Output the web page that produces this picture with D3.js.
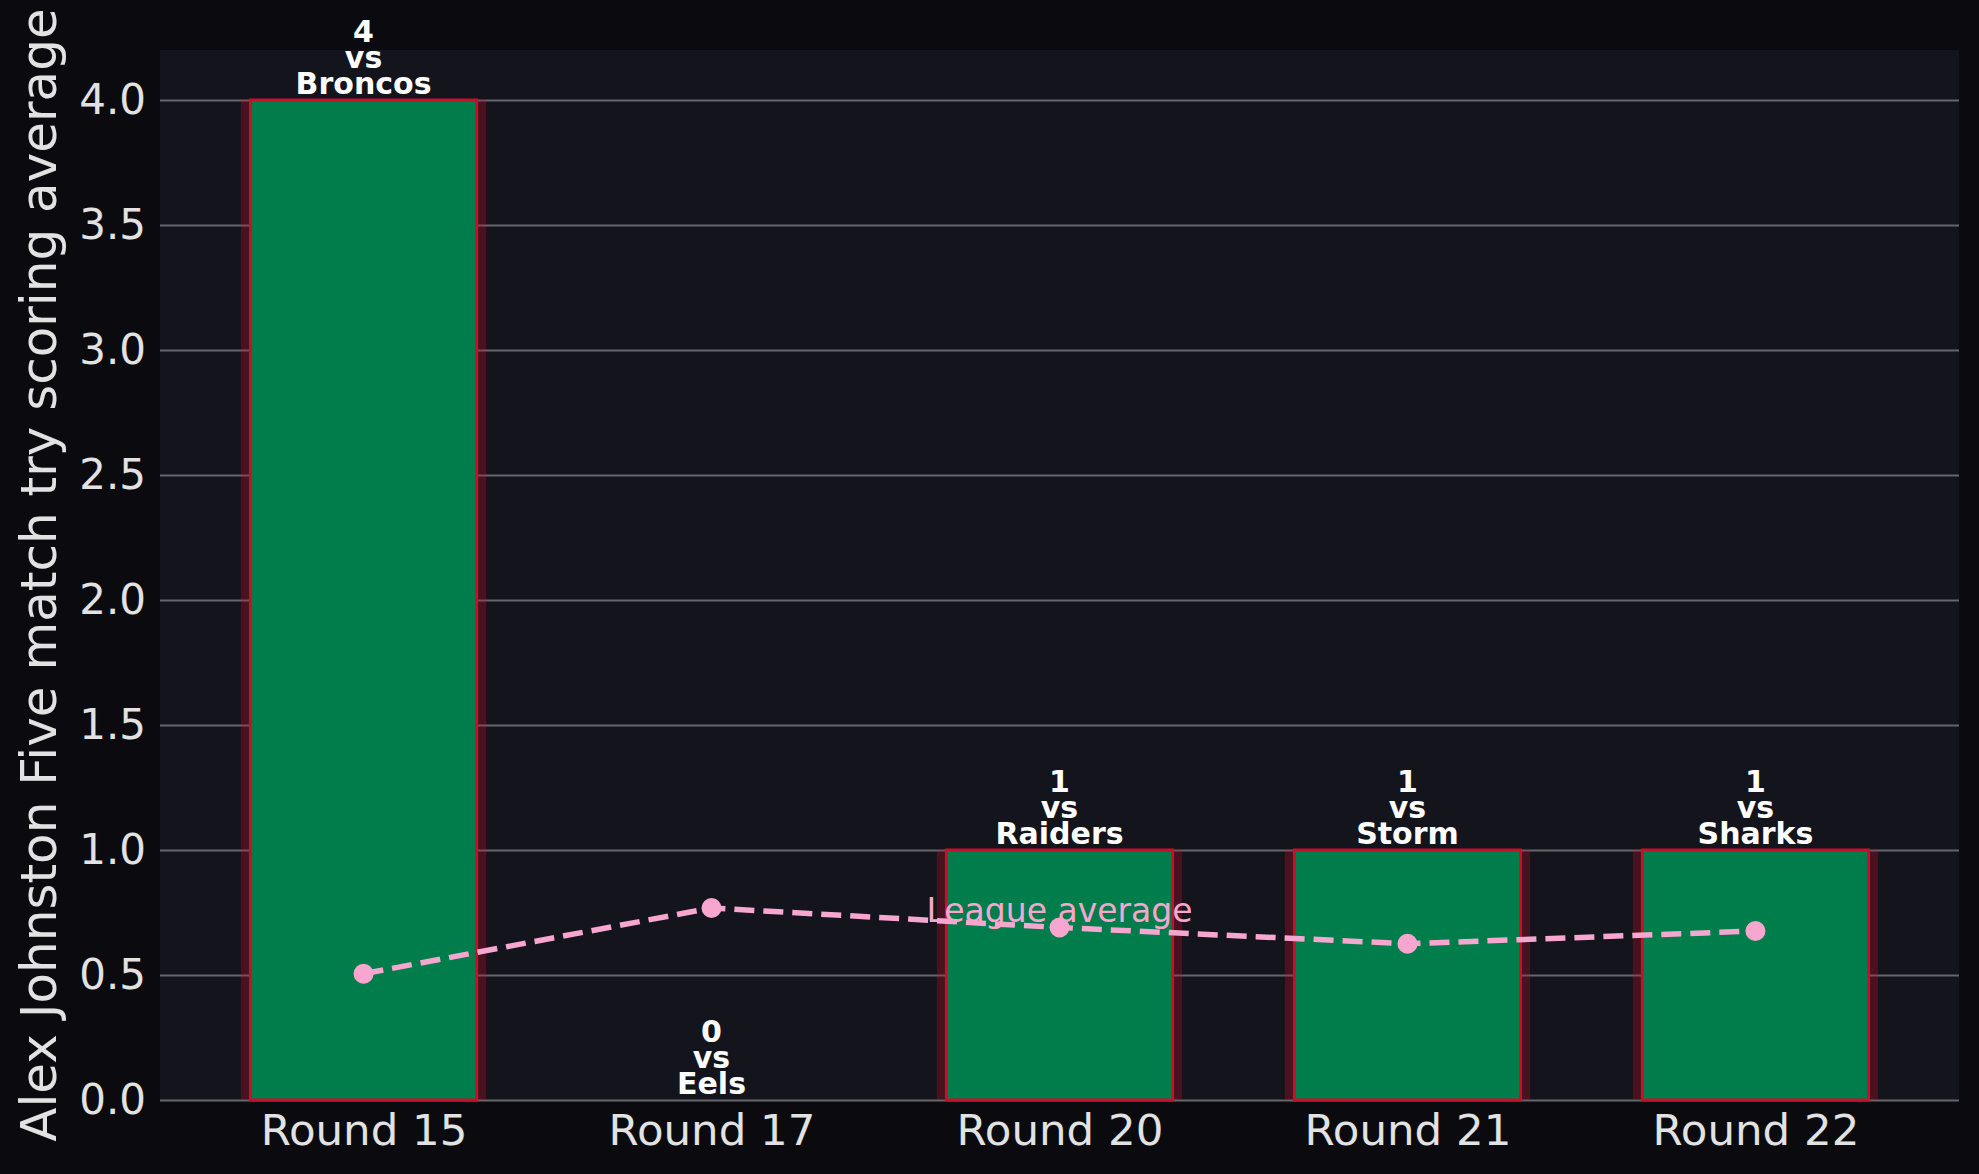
<!DOCTYPE html>
<html>
<head>
<meta charset="utf-8">
<script src="https://cdn.jsdelivr.net/npm/d3@7/dist/d3.min.js"></script>
<style>
  html, body { margin: 0; padding: 0; background: #0b0b0f; }
  svg { display: block; font-family: 'DejaVu Sans', sans-serif; }
</style>
</head>
<body>
<div id="chart"></div>
<script>
// data
const rounds = ['Round 15', 'Round 17', 'Round 20', 'Round 21', 'Round 22'];
const tries = [4, 0, 1, 1, 1];
const opponents = ['Broncos', 'Eels', 'Raiders', 'Storm', 'Sharks'];
const leagueAvg = [0.505, 0.768, 0.69, 0.625, 0.676];
const yTicks = [0, 0.5, 1, 1.5, 2, 2.5, 3, 3.5, 4];
const yLabel = 'Alex Johnston Five match try scoring average';

const W = 1979;
const H = 1174;
const margin = { t: 50, r: 20, b: 74, l: 160 };
const innerWidth = W - margin.l - margin.r;
const innerHeight = H - margin.t - margin.b;

const svg = d3.select('#chart')
  .append('svg')
  .attr('width', W)
  .attr('height', H);

svg.append('rect')
  .attr('width', W)
  .attr('height', H)
  .attr('fill', '#0b0b0f');

const plot = svg.append('g')
  .attr('class', 'plot')
  .attr('transform', `translate(${margin.l}, ${margin.t})`);

plot.append('rect')
  .attr('width', innerWidth)
  .attr('height', innerHeight)
  .attr('fill', '#13141c');

const x = d3.scalePoint().domain(rounds).range([0, innerWidth]).padding(0.585);
const y = d3.scaleLinear().domain([0, 4.2]).range([innerHeight, 0]);
const step = x.step();
const barW = step * 0.65;
const shadowW = step * 0.705;

// gridlines
const grid = plot.append('g')
  .attr('class', 'grid')
  .call(d3.axisLeft(y).tickValues(yTicks).tickSize(-innerWidth).tickFormat(''));
grid.select('.domain').remove();
grid.selectAll('line')
  .attr('stroke', '#66666c')
  .attr('stroke-width', 2);

const data = rounds.map((r, i) => ({ round: r, tries: tries[i], opp: opponents[i], avg: leagueAvg[i] }));

// glow behind the bars
plot.selectAll('.shadow')
  .data(data)
  .enter()
  .append('rect')
  .attr('class', 'shadow')
  .attr('x', d => x(d.round) - shadowW / 2)
  .attr('width', shadowW)
  .attr('y', d => y(d.tries))
  .attr('height', d => y(0) - y(d.tries))
  .attr('fill', '#c8102e')
  .attr('fill-opacity', 0.3);

plot.selectAll('.bar')
  .data(data)
  .enter()
  .append('rect')
  .attr('class', 'bar')
  .attr('x', d => x(d.round) - barW / 2)
  .attr('width', barW)
  .attr('y', d => y(d.tries))
  .attr('height', d => y(0) - y(d.tries))
  .attr('fill', '#007d4b')
  .attr('stroke', '#c8102e')
  .attr('stroke-width', 3);

// labels over the bars
const labels = plot.selectAll('.bar-label')
  .data(data)
  .enter()
  .append('text')
  .attr('class', 'bar-label')
  .attr('text-anchor', 'middle')
  .attr('fill', '#ffffff')
  .style('font-weight', 'bold')
  .style('font-size', '30px');

labels.each(function(d) {
  const base = y(d.tries) - 6;
  const lines = [String(d.tries), 'vs', d.opp];
  d3.select(this).selectAll('tspan')
    .data(lines)
    .enter()
    .append('tspan')
    .attr('x', x(d.round))
    .attr('y', (l, i) => base - (lines.length - 1 - i) * 26)
    .text(l => l);
});

// league average line
const line = d3.line()
  .x(d => x(d.round))
  .y(d => y(d.avg));

plot.append('path')
  .datum(data)
  .attr('d', line)
  .attr('fill', 'none')
  .attr('stroke', '#f7a6cf')
  .attr('stroke-width', 5.5)
  .attr('stroke-dasharray', '20,9');

plot.selectAll('.dot')
  .data(data)
  .enter()
  .append('circle')
  .attr('class', 'dot')
  .attr('cx', d => x(d.round))
  .attr('cy', d => y(d.avg))
  .attr('r', 10)
  .attr('fill', '#f7a6cf');

plot.append('text')
  .attr('x', x(rounds[2]))
  .attr('y', y(leagueAvg[2]) - 6)
  .attr('text-anchor', 'middle')
  .attr('fill', '#f7a6cf')
  .style('font-size', '33px')
  .text('League average');

// axes
const axisX = plot.append('g')
  .attr('class', 'axis axis-x')
  .attr('transform', `translate(0, ${innerHeight})`)
  .call(d3.axisBottom(x).tickSize(0).tickPadding(14));
axisX.select('.domain').remove();
axisX.selectAll('text')
  .attr('fill', '#e2e2e2')
  .style('font-family', 'DejaVu Sans')
  .style('font-size', '43.5px');

const axisY = plot.append('g')
  .attr('class', 'axis axis-y')
  .call(d3.axisLeft(y).tickValues(yTicks).tickSize(0).tickPadding(14).tickFormat(d3.format('.1f')));
axisY.select('.domain').remove();
axisY.selectAll('text')
  .attr('fill', '#e2e2e2')
  .style('font-family', 'DejaVu Sans')
  .style('font-size', '42px');

svg.append('text')
  .attr('transform', 'rotate(-90)')
  .attr('x', -(margin.t + innerHeight / 2))
  .attr('y', 56)
  .attr('text-anchor', 'middle')
  .attr('fill', '#e2e2e2')
  .style('font-size', '50px')
  .text(yLabel);
</script>
</body>
</html>
